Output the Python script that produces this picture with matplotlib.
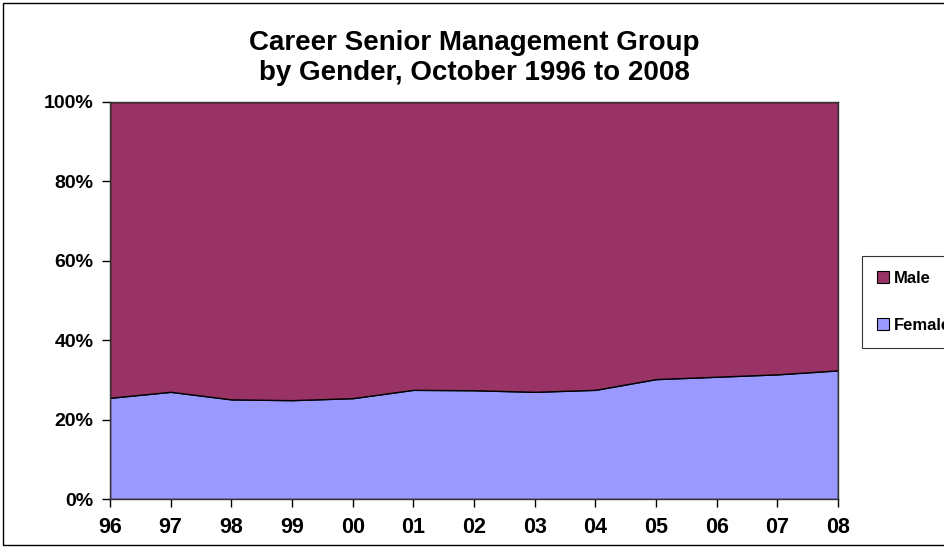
import matplotlib.pyplot as plt
import matplotlib.patches as mpatches
from matplotlib.ticker import FuncFormatter

years = ['96', '97', '98', '99', '00', '01', '02', '03', '04', '05', '06', '07', '08']
female = [25.5, 27.0, 25.1, 24.9, 25.4, 27.5, 27.4, 27.0, 27.5, 30.2, 30.8, 31.4, 32.4]
male = [100 - f for f in female]

plt.rcParams['font.family'] = ['Liberation Sans', 'DejaVu Sans']
plt.rcParams['font.weight'] = 'bold'

male_color = '#993366'
female_color = '#9999FF'

fig = plt.figure(figsize=(9.45, 5.48), dpi=100)
ax = fig.add_axes([110 / 945, 49 / 548, 728 / 945, 397 / 548])

x = list(range(len(years)))
ax.stackplot(x, female, male, colors=[female_color, male_color],
             edgecolor='black', linewidth=1.0)

ax.set_xlim(0, len(years) - 1)
ax.set_ylim(0, 100)
ax.set_xticks(x)
ax.set_xticklabels(years)
ax.set_yticks([0, 20, 40, 60, 80, 100])
ax.yaxis.set_major_formatter(FuncFormatter(lambda v, p: '{:d}%'.format(int(v))))
ax.tick_params(axis='both', direction='out', length=6, width=1, colors='black', pad=6)
ax.tick_params(axis='x', labelsize=15.5, pad=7)
ax.tick_params(axis='y', labelsize=14)
for s in ax.spines.values():
    s.set_color('#333333')
    s.set_linewidth(1.0)

fig.text(474 / 945, 1 - 58 / 548, 'Career Senior Management Group\nby Gender, October 1996 to 2008',
         ha='center', va='center', fontsize=20, fontweight='bold', linespacing=1.2)

# outer chart frame
fig.patches.append(mpatches.Rectangle((3 / 945, 3 / 548), 1.2, 1 - 6 / 548,
                                      transform=fig.transFigure, fill=False,
                                      edgecolor='black', linewidth=1.0))

handles = [mpatches.Patch(facecolor=male_color, edgecolor='black', linewidth=0.8, label='Male'),
           mpatches.Patch(facecolor=female_color, edgecolor='black', linewidth=0.8, label='Female')]
leg = fig.legend(handles=handles, loc='upper left', bbox_to_anchor=(862 / 945, 1 - 256 / 548),
                 fontsize=12, frameon=True, fancybox=False, handlelength=0.7, handleheight=0.7,
                 handletextpad=0.3, labelspacing=1.9, borderpad=0.9, borderaxespad=0)
leg.get_frame().set_edgecolor('black')
leg.get_frame().set_linewidth(0.8)

plt.savefig('out.png', dpi=100)
